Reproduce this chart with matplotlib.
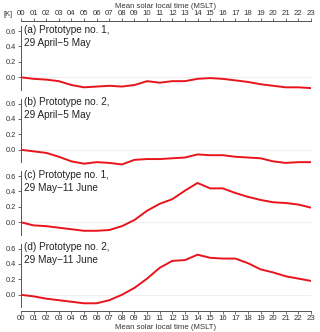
import numpy as np
import matplotlib.pyplot as plt

plt.rcParams['font.family'] = ['Liberation Sans', 'DejaVu Sans']

# mean solar local time, hours
hours = np.arange(24)
hour_labels = ['%02d' % h for h in hours]

# temperature difference [K] for each panel
proto1_spring = [0.00, -0.02, -0.03, -0.05, -0.10, -0.13, -0.12, -0.11, -0.12, -0.10, -0.05, -0.07,
                 -0.05, -0.05, -0.02, -0.01, -0.02, -0.04, -0.06, -0.09, -0.11, -0.13, -0.13, -0.14]
proto2_spring = [0.00, -0.02, -0.04, -0.09, -0.15, -0.18, -0.16, -0.17, -0.19, -0.13, -0.12, -0.12,
                 -0.11, -0.10, -0.06, -0.07, -0.07, -0.09, -0.10, -0.11, -0.15, -0.17, -0.16, -0.16]
proto1_summer = [0.00, -0.04, -0.05, -0.07, -0.09, -0.11, -0.11, -0.10, -0.05, 0.03, 0.15, 0.24,
                 0.30, 0.41, 0.51, 0.44, 0.44, 0.38, 0.33, 0.29, 0.26, 0.25, 0.23, 0.19]
proto2_summer = [0.00, -0.02, -0.05, -0.07, -0.09, -0.11, -0.11, -0.07, 0.00, 0.09, 0.21, 0.35,
                 0.44, 0.45, 0.52, 0.48, 0.47, 0.47, 0.41, 0.33, 0.29, 0.24, 0.21, 0.18]

series = [proto1_spring, proto2_spring, proto1_summer, proto2_summer]
labels = ['(a) Prototype no. 1,\n29 April\u22125 May',
          '(b) Prototype no. 2,\n29 April\u22125 May',
          '(c) Prototype no. 1,\n29 May\u221211 June',
          '(d) Prototype no. 2,\n29 May\u221211 June']
yticks = [0.0, 0.2, 0.4, 0.6]

W, H = 320, 332
fig = plt.figure(figsize=(W / 100, H / 100), dpi=100)

left, right = 21, 311
top0 = 21
ph = 72.5
grey = '#555555'
txt = '#333333'

for i, (vals, lab) in enumerate(zip(series, labels)):
    top = top0 + i * ph
    ax = fig.add_axes([left / W, 1 - (top + ph) / H, (right - left) / W, ph / H])
    ax.axhline(0, color='#f0f0f0', lw=0.8, zorder=0)
    ax.plot(hours, vals, color='#e8141c', lw=1.4)
    ax.set_xlim(0, 23)
    ax.set_ylim(-0.21, 0.73)
    ax.set_yticks(yticks)
    ax.set_yticklabels(['%.1f' % v for v in yticks])
    ax.patch.set_alpha(0)
    for s in ['right', 'top', 'bottom']:
        ax.spines[s].set_visible(False)
    ax.spines['left'].set_color(grey)
    ax.spines['left'].set_linewidth(0.7)
    ax.spines['left'].set_bounds(-0.16, 0.66)
    ax.tick_params(axis='y', labelsize=5.3, length=2, width=0.6, color=grey, pad=1.5,
                   labelcolor=txt)
    ax.text(0.01, 0.95, lab, transform=ax.transAxes, ha='left', va='top',
            fontsize=7.2, linespacing=1.4, color='#222222')

    if i == 0 or i == 3:
        pos = 'top' if i == 0 else 'bottom'
        ax.spines[pos].set_visible(True)
        ax.spines[pos].set_color(grey)
        ax.spines[pos].set_linewidth(0.7)
        ax.xaxis.set_ticks_position(pos)
        ax.xaxis.set_label_position(pos)
        ax.set_xticks(hours)
        ax.set_xticklabels(hour_labels)
        ax.tick_params(axis='x', labelsize=5.6, length=2, width=0.6, color=grey, pad=1,
                       labelcolor=txt)
        ax.set_xlabel('Mean solar local time (MSLT)', fontsize=5.6, labelpad=1,
                      color=txt)
    else:
        ax.set_xticks([])

fig.text(3 / W, 1 - 15 / H, '[K]', fontsize=5.3, va='center', ha='left', color=txt)

fig.savefig('out.png', dpi=100)
